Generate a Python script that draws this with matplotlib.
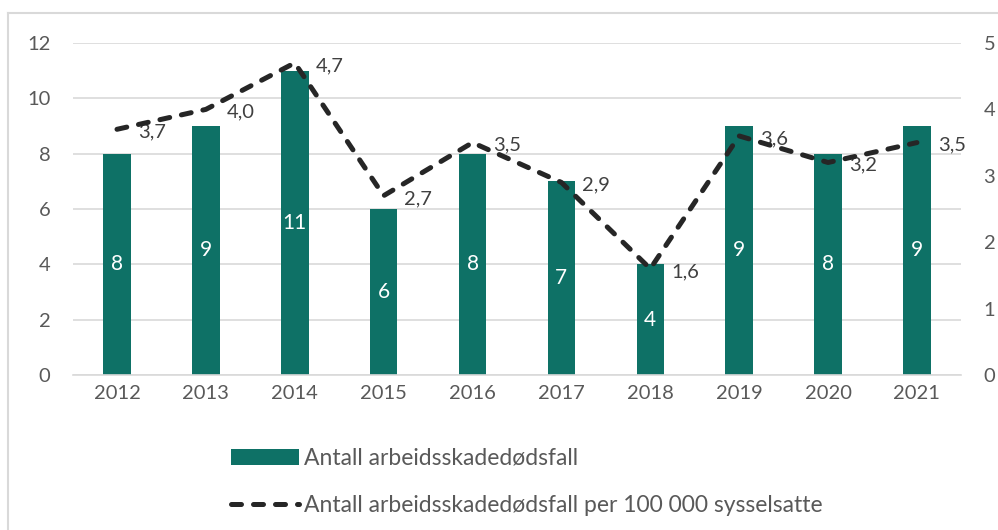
import matplotlib.pyplot as plt
from matplotlib.lines import Line2D
import numpy as np

plt.rcParams['font.family'] = ['Lato', 'DejaVu Sans']

years = ['2012', '2013', '2014', '2015', '2016', '2017', '2018', '2019', '2020', '2021']
deaths = [8, 9, 11, 6, 8, 7, 4, 9, 8, 9]
per_100k = [3.7, 4.0, 4.7, 2.7, 3.5, 2.9, 1.6, 3.6, 3.2, 3.5]

teal = '#0e7166'
txt = '#595959'
grid = '#d9d9d9'

fig = plt.figure(figsize=(9.98, 5.30), dpi=100)
# frame of the chart box (cropped on right and bottom)
fig.add_artist(Line2D([0.008, 0.008], [0.9755, 0.0], color=grid, lw=1.5))
fig.add_artist(Line2D([0.008, 1.0], [0.9755, 0.9755], color=grid, lw=1.5))

ax = fig.add_axes([0.0727, 0.2925, 0.8906, 0.6264])
x = np.arange(len(years))

bars = ax.bar(x, deaths, width=0.31, color=teal, zorder=2,
              label='Antall arbeidsskadedødsfall')
for xi, v in zip(x, deaths):
    ax.text(xi, v / 2, str(v), ha='center', va='center', color='white',
            fontsize=15, zorder=3)

ax.set_xlim(-0.5, len(years) - 0.5)
ax.set_ylim(0, 12)
ax.set_yticks(range(0, 13, 2))
ax.set_xticks(x, years)
ax.yaxis.grid(True, color=grid, linewidth=1.2, zorder=0)
for s in ['top', 'left', 'right']:
    ax.spines[s].set_visible(False)
ax.spines['bottom'].set_color(grid)
ax.spines['bottom'].set_linewidth(1.2)
ax.tick_params(length=0, labelsize=14.5, colors=txt, pad=7)
ax.tick_params(axis='y', pad=16)

ax2 = ax.twinx()
ax2.set_ylim(0, 5)
ax2.set_yticks(range(0, 6))
for s in ax2.spines.values():
    s.set_visible(False)
ax2.tick_params(length=0, labelsize=14.5, colors=txt, pad=16)
line, = ax2.plot(x, per_100k, color='#262626', linewidth=3.6,
                 dashes=(2.0, 2.4), dash_capstyle='round', zorder=4,
                 label='Antall arbeidsskadedødsfall per 100 000 sysselsatte')
for xi, v in zip(x, per_100k):
    ax2.annotate(f'{v:.1f}'.replace('.', ','), (xi, v), xytext=(15, -2),
                 textcoords='offset points', ha='left', va='center',
                 color='#404040', fontsize=14.5)

fig.legend(handles=[bars, line], loc='upper left',
           bbox_to_anchor=(0.2315, 0.155), frameon=False, fontsize=16.5,
           handlelength=2.95, handletextpad=0.22, labelspacing=1.15,
           labelcolor=txt, borderpad=0, borderaxespad=0)

fig.savefig('out.png', dpi=100)
